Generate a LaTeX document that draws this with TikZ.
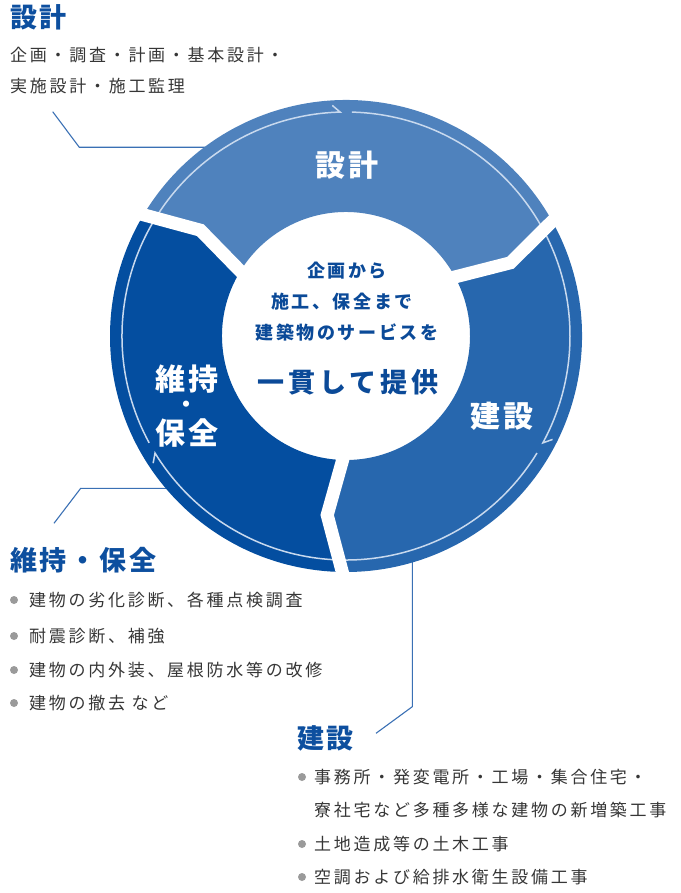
\documentclass[tikz,border=0pt]{standalone}
\usepackage{fontspec}
\setmainfont{Noto Sans CJK JP}
\newfontfamily\bodyjp[LetterSpace=16]{Noto Sans CJK JP}
\newfontfamily\headjp[LetterSpace=10]{Noto Sans CJK JP}
\newfontfamily\centjp[LetterSpace=14]{Noto Sans CJK JP}
\definecolor{segTop}{HTML}{4F82BD}
\definecolor{segRight}{HTML}{2767AE}
\definecolor{segLeft}{HTML}{044EA0}
\definecolor{titleblue}{HTML}{0D4F9F}
\definecolor{centerblue}{HTML}{0B4A98}
\definecolor{bodygray}{HTML}{363636}
\definecolor{dotgray}{HTML}{9A9A9A}
\definecolor{ringline}{HTML}{C8D9EE}
\definecolor{leaderblue}{HTML}{3A70B4}
\tikzset{
  leader/.style={draw=leaderblue, line width=1.1pt},
  gapline/.style={draw=white, line width=13pt, line join=miter},
  ringstroke/.style={draw=ringline, line width=1.5pt, line join=miter},
  segtext/.style={inner sep=0pt, text=white, font=\headjp\bfseries\fontsize{30}{32}\selectfont},
  segdot/.style={inner sep=0pt, text=white, font=\headjp\bfseries\fontsize{22}{24}\selectfont},
  centsmall/.style={inner sep=0pt, text=centerblue, font=\centjp\bfseries\fontsize{18}{20}\selectfont},
  centbig/.style={inner sep=0pt, text=centerblue, font=\centjp\bfseries\fontsize{27}{30}\selectfont},
  titletext/.style={inner sep=0pt, anchor=west, text=titleblue, font=\headjp\bfseries\fontsize{27}{30}\selectfont},
  bodytext/.style={inner sep=0pt, anchor=west, text=bodygray, font=\bodyjp\fontsize{17}{20}\selectfont},
  bullet/.style={circle, fill=dotgray, inner sep=0pt, minimum size=8pt}
}
\begin{document}
\begin{tikzpicture}[x=1pt,y=-1pt]
\useasboundingbox (0,0) rectangle (680,893);

% ---- leader lines (drawn under the ring) ----
\coordinate (l1a) at (52.7,111.7);
\coordinate (l1b) at (79.3,147.3);
\coordinate (l1c) at (215,147.3);
\coordinate (l2a) at (54,523.3);
\coordinate (l2b) at (80.7,488.3);
\coordinate (l2c) at (175,488.3);
\coordinate (l3a) at (412.3,555);
\coordinate (l3b) at (412.3,706.7);
\coordinate (l3c) at (376,733.3);
\draw[leader] (l1a) -- (l1b) -- (l1c);
\draw[leader] (l2a) -- (l2b) -- (l2c);
\draw[leader] (l3a) -- (l3b) -- (l3c);

% ---- ring ----
\begin{scope}[shift={(346,336)}, yscale=-1]
  \fill[segTop] (150:236) arc[start angle=150,end angle=30,radius=236]
     -- (24:180) -- (30:124) arc[start angle=30,end angle=150,radius=124]
     -- (144:180) -- cycle;
  \fill[segRight] (30:236) arc[start angle=30,end angle=-90,radius=236]
     -- (-96:180) -- (-90:124) arc[start angle=-90,end angle=30,radius=124]
     -- (24:180) -- cycle;
  \fill[segLeft] (270:236) arc[start angle=270,end angle=150,radius=236]
     -- (144:180) -- (150:124) arc[start angle=150,end angle=270,radius=124]
     -- (264:180) -- cycle;
  % thin inner ring with half arrowheads
  \draw[ringstroke] (88.5:224) arc[start angle=88.5,end angle=-28.5,radius=224] -- (-26.6:231);
  \draw[ringstroke] (-31.5:224) arc[start angle=-31.5,end angle=-148.5,radius=224] -- (-146.6:231);
  \draw[ringstroke] (208.5:224) arc[start angle=208.5,end angle=91.5,radius=224] -- (93.4:231);
  % white gaps
  \draw[gapline] (30:250) -- (24:180) -- (30:112);
  \draw[gapline] (150:250) -- (144:180) -- (150:112);
  \draw[gapline] (270:250) -- (264:180) -- (270:112);
\end{scope}

% ---- ring labels ----
\node[segtext] (sekkeiL) at (347,165) {設計};
\node[segtext] (kensetsuL) at (502,416) {建設};
\node[segtext] (ijiL1) at (187,379.5) {維持};
\node[segdot] (ijiL2) at (186.5,406.5) {・};
\node[segtext] (ijiL3) at (187,433.5) {保全};

% ---- centre ----
\node[centsmall] (c1) at (347,271) {企画から};
\node[centsmall] (c2) at (342,302) {施工、保全まで};
\node[centsmall] (c3) at (347,333) {建築物のサービスを};
\node[centbig] (c4) at (348,382) {一貫して提供};

% ---- 設計 description ----
\node[titletext] (t1) at (10,17) {設計};
\node[bodytext] (t1a) at (10,55) {企画・調査・計画・基本設計・};
\node[bodytext] (t1b) at (10,86) {実施設計・施工監理};

% ---- 維持・保全 description ----
\node[titletext] (t2) at (10,560) {維持・保全};
\node[bullet] (b21) at (14,600) {};
\node[bodytext] (t21) at (29,600) {建物の劣化診断、各種点検調査};
\node[bullet] (b22) at (14,636) {};
\node[bodytext] (t22) at (29,636) {耐震診断、補強};
\node[bullet] (b23) at (14,670) {};
\node[bodytext] (t23) at (29,670) {建物の内外装、屋根防水等の改修};
\node[bullet] (b24) at (14,703) {};
\node[bodytext] (t24) at (29,703) {建物の撤去 など};

% ---- 建設 description ----
\node[titletext] (t3) at (297,738) {建設};
\node[bullet] (b31) at (302,777) {};
\node[bodytext] (t31) at (314,777) {事務所・発変電所・工場・集合住宅・};
\node[bodytext] (t31b) at (314,810) {寮社宅など多種多様な建物の新増築工事};
\node[bullet] (b32) at (302,844) {};
\node[bodytext] (t32) at (314,844) {土地造成等の土木工事};
\node[bullet] (b33) at (302,877) {};
\node[bodytext] (t33) at (314,877) {空調および給排水衛生設備工事};
\end{tikzpicture}
\end{document}
